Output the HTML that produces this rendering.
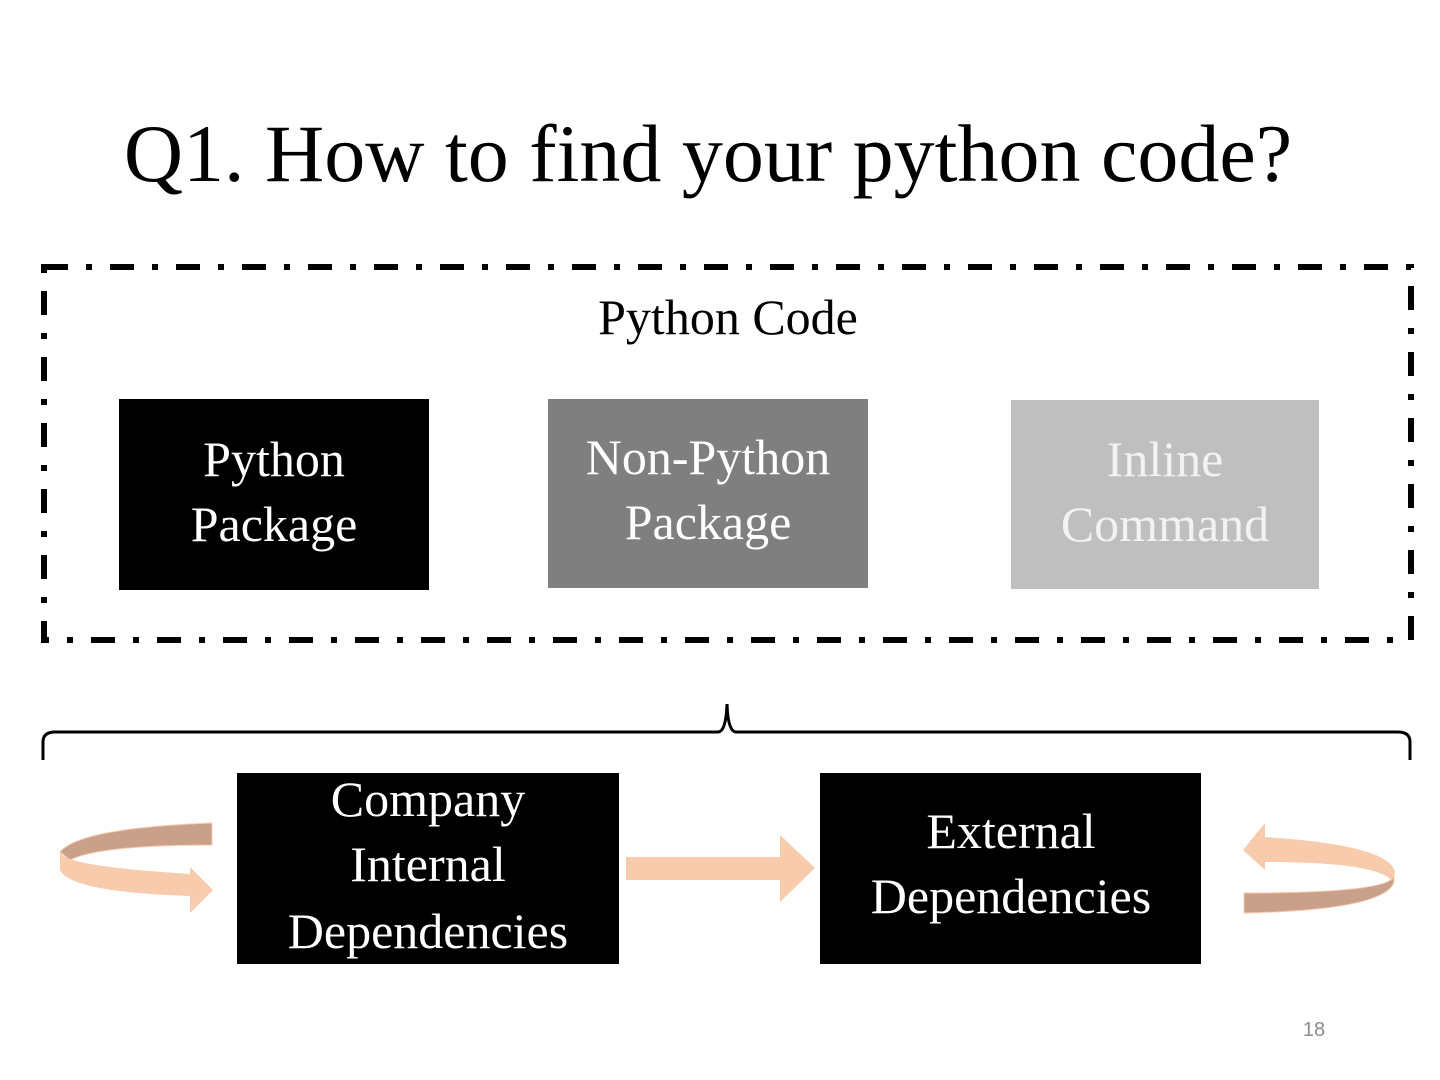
<!DOCTYPE html>
<html><head><meta charset="utf-8"><style>
body{margin:0;background:#fff}
svg{display:block}
text{font-family:"Liberation Serif",serif}
</style></head><body>
<svg width="1440" height="1080" viewBox="0 0 1440 1080" xmlns="http://www.w3.org/2000/svg">
<rect width="1440" height="1080" fill="#fff"/>
<text x="708" y="181" font-size="82" text-anchor="middle" fill="#000">Q1. How to find your python code?</text>
<rect x="44" y="267" width="1367" height="373" fill="none" stroke="#000" stroke-width="6" stroke-dasharray="24 18 6 18"/>
<text x="728" y="334" font-size="50" text-anchor="middle">Python Code</text>

<rect x="119" y="399" width="310" height="191" fill="#000"/>
<text x="274" y="476" font-size="50" fill="#fff" text-anchor="middle">Python</text>
<text x="274" y="541" font-size="50" fill="#fff" text-anchor="middle">Package</text>

<rect x="548" y="399" width="320" height="189" fill="#7f7f7f"/>
<text x="708" y="474" font-size="50" fill="#fff" text-anchor="middle">Non-Python</text>
<text x="708" y="539" font-size="50" fill="#fff" text-anchor="middle">Package</text>

<rect x="1011" y="400" width="308" height="189" fill="#bfbfbf"/>
<text x="1165" y="476" font-size="50" fill="#f2f2f2" text-anchor="middle">Inline</text>
<text x="1165" y="541" font-size="50" fill="#f2f2f2" text-anchor="middle">Command</text>

<path d="M43 760 V742 Q43 732 55 732 H718 Q726 732 727 704 Q728 732 736 732 H1398 Q1410 732 1410 742 V760" fill="none" stroke="#000" stroke-width="3"/>

<rect x="237" y="773" width="382" height="191" fill="#000"/>
<text x="428" y="816" font-size="50" fill="#fff" text-anchor="middle">Company</text>
<text x="428" y="881" font-size="50" fill="#fff" text-anchor="middle">Internal</text>
<text x="428" y="948" font-size="50" fill="#fff" text-anchor="middle">Dependencies</text>

<rect x="820" y="773" width="381" height="191" fill="#000"/>
<text x="1011" y="848" font-size="50" fill="#fff" text-anchor="middle">External</text>
<text x="1011" y="913" font-size="50" fill="#fff" text-anchor="middle">Dependencies</text>

<path d="M626 857 H780 V835 L815 868 L780 902 V880 H626 Z" fill="#f8cbad"/>

<!-- left curved arrow -->
<path d="M212 823 V845 Q100 845 70 860 L60 852 Q80 828 212 823 Z" fill="#c9a08a" stroke="#f8cbad" stroke-width="1"/>
<path d="M60 852 Q62 866 190 874 V867 L213 890 L190 913 V896 Q70 892 60 870 Z" fill="#f8cbad"/>

<!-- right curved arrow -->
<path d="M1243 850 L1265 823 V837 Q1390 845 1395 872 L1393 882 Q1380 862 1265 862 V870 Z" fill="#f8cbad"/>
<path d="M1394 876 Q1390 893 1244 893 V913 Q1385 910 1394 882 Z" fill="#c9a08a" stroke="#f8cbad" stroke-width="1"/>

<text x="1314" y="1036" font-size="20" fill="#8c8c8c" text-anchor="middle" style="font-family:'Liberation Sans',sans-serif">18</text>
</svg>
</body></html>
